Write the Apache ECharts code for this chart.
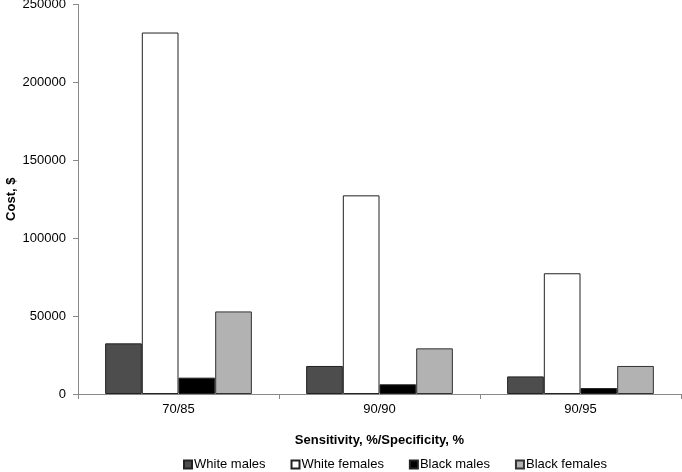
<!DOCTYPE html>
<html><head><meta charset="utf-8">
<script src="https://cdn.jsdelivr.net/npm/echarts@6/dist/echarts.min.js"></script>
<style>html,body{margin:0;padding:0;background:#fff}#c{width:682px;height:472px}</style>
</head><body><div id="c"></div>
<script>
const categories = ['70/85', '90/90', '90/95'];
const whiteMales = [32500, 18000, 11300];
const whiteFemales = [232000, 127500, 77500];
const blackMales = [10500, 6200, 3800];
const blackFemales = [53000, 29300, 18000];
const yTicks = [0, 50000, 100000, 150000, 200000, 250000];

const font = 'Liberation Sans, Arial, sans-serif';
const mk = (name, data, color, border) => ({
  name, type: 'bar', data, barGap: '0%', barCategoryGap: '27%',
  itemStyle: { color, borderColor: border, borderWidth: 1 },
  emphasis: { disabled: true }
});
const chart = echarts.init(document.getElementById('c'), null, { renderer: 'canvas' });
chart.setOption({
  animation: false,
  grid: { left: 78, right: 1, top: 4.5, bottom: 78, containLabel: false, outerBoundsMode: 'none' },
  legend: {
    top: 458, left: 183, itemWidth: 8, itemHeight: 8, itemGap: 25, padding: 0,
    icon: 'rect',
    textStyle: { fontFamily: font, fontSize: 13, color: '#000', padding: [0,0,0,-3] },
    data: ['White males', 'White females', 'Black males', 'Black females']
  },
  xAxis: {
    type: 'category', data: categories,
    name: 'Sensitivity, %/Specificity, %', nameLocation: 'middle', nameGap: 40,
    nameTextStyle: { fontFamily: font, fontSize: 13, fontWeight: 'bold', color: '#000' },
    axisLine: { lineStyle: { color: '#888', width: 1 } },
    axisTick: { show: true, length: 5, lineStyle: { color: '#888' } },
    axisLabel: { fontFamily: font, fontSize: 13, color: '#000', margin: 9 }
  },
  yAxis: {
    type: 'value', min: 0, max: 250000, interval: 50000,
    name: 'Cost, $', nameLocation: 'middle', nameGap: 60, nameMoveOverlap: false,
    nameTextStyle: { fontFamily: font, fontSize: 13, fontWeight: 'bold', color: '#000' },
    axisLine: { show: true, lineStyle: { color: '#888', width: 1 } },
    axisTick: { show: true, length: 5, lineStyle: { color: '#888' } },
    splitLine: { show: false },
    axisLabel: { fontFamily: font, fontSize: 13, color: '#000', margin: 12,
      formatter: v => yTicks.includes(v) ? String(v) : '' }
  },
  series: [
    mk('White males', whiteMales, '#4d4d4d', '#222'),
    mk('White females', whiteFemales, '#ffffff', '#222'),
    mk('Black males', blackMales, '#000000', '#222'),
    mk('Black females', blackFemales, '#b2b2b2', '#333')
  ]
});
</script></body></html>
